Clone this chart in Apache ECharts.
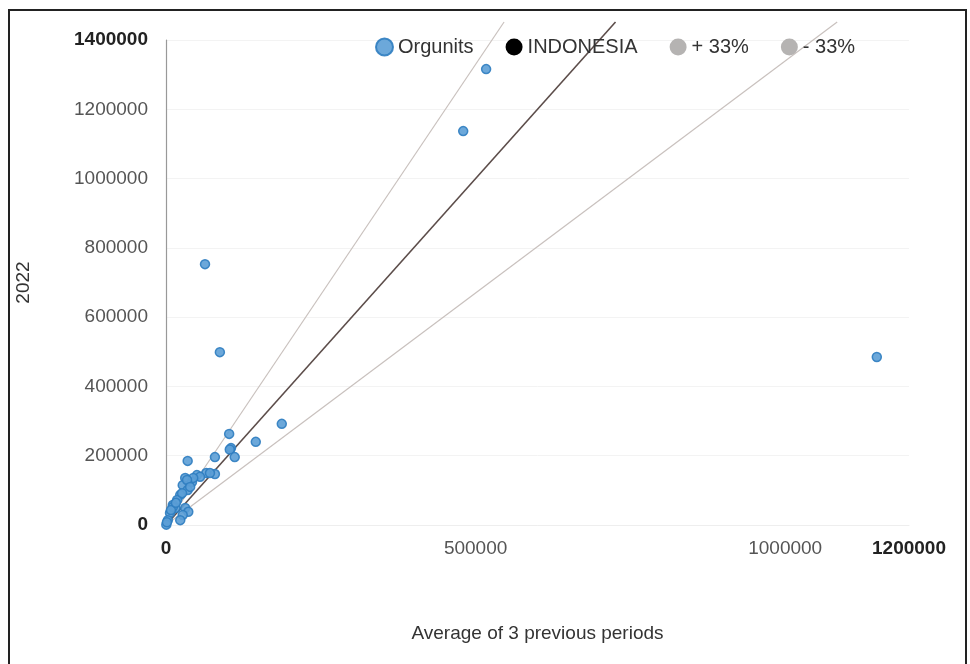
<!DOCTYPE html>
<html>
<head>
<meta charset="utf-8">
<script src="https://cdn.jsdelivr.net/npm/echarts@6/dist/echarts.min.js"></script>
<style>
  html, body { margin: 0; padding: 0; background: #fff; }
  #main { width: 970px; height: 664px; }
</style>
</head>
<body>
<div id="main"></div>
<script>
// [average of 3 previous periods, 2022]
var orgunits = [
    [517000, 1316000], [480000, 1137000], [63000, 753000], [87000, 499000],
    [1148000, 485000], [187000, 292000], [102000, 263000], [145000, 240000],
    [105000, 222000], [103000, 218000], [111000, 196000], [79000, 196000],
    [35000, 185000], [65000, 150000], [79000, 147000], [71000, 150000],
    [50000, 144000], [31000, 136000], [42000, 124000], [27000, 115000],
    [35000, 101000], [23000, 87000], [18000, 72000], [11000, 58000],
    [31000, 49000], [36000, 38000], [27000, 29000], [6500, 35000],
    [3000, 14000], [500, 1000], [23000, 14000], [15000, 49000],
    [55000, 139000], [44000, 136000], [34000, 130000], [39000, 110000],
    [26000, 92000], [11000, 52000], [1500, 8000], [8000, 43000], [16000, 64000]
];
var indonesiaLine = [[0, 0], [726000, 1452000]];
var plus33Line = [[0, 0], [546000, 1452000]];
var minus33Line = [[0, 0], [1084000, 1452000]];
var legendNames = ['Orgunits', 'INDONESIA', '+ 33%', '- 33%'];

var myChart = echarts.init(document.getElementById('main'));
var font = 'Liberation Sans, Arial, sans-serif';

function boldEnds(lo, hi) {
    return function (v) {
        return (v === lo || v === hi) ? '{b|' + v + '}' : String(v);
    };
}

var option = {
    animation: false,
    backgroundColor: '#fff',
    textStyle: { fontFamily: font },
    graphic: [{
        type: 'rect',
        shape: { x: 9, y: 10, width: 957, height: 662 },
        style: { fill: 'none', stroke: '#222', lineWidth: 2 },
        z: 100
    }],
    legend: {
        data: legendNames,
        left: 370,
        top: 32,
        icon: 'circle',
        itemWidth: 17,
        itemHeight: 17,
        itemGap: 32,
        textStyle: { fontSize: 20, color: '#333', fontFamily: font }
    },
    grid: {
        left: 166,
        right: 61,
        top: 40,
        bottom: 139
    },
    xAxis: {
        type: 'value',
        min: 0,
        max: 1200000,
        interval: 500000,
        name: 'Average of 3 previous periods',
        nameLocation: 'middle',
        nameGap: 99,
        nameTextStyle: { fontSize: 19, color: '#333' },
        axisLine: { show: true, lineStyle: { color: '#eee' } },
        axisTick: { show: false },
        splitLine: { show: false },
        axisLabel: {
            fontSize: 19,
            color: '#555',
            margin: 14,
            showMaxLabel: true,
            formatter: boldEnds(0, 1200000),
            rich: { b: { fontSize: 19, fontWeight: 'bold', color: '#222', fontFamily: font } }
        }
    },
    yAxis: {
        type: 'value',
        min: 0,
        max: 1400000,
        interval: 200000,
        name: '2022',
        nameLocation: 'middle',
        nameGap: 133,
        nameTextStyle: { fontSize: 19, color: '#333' },
        axisLine: { show: true, lineStyle: { color: '#999', width: 1.2 } },
        axisTick: { show: false },
        splitLine: { show: true, lineStyle: { color: '#f3f3f3' } },
        axisLabel: {
            fontSize: 19,
            color: '#555',
            margin: 18,
            formatter: boldEnds(0, 1400000),
            rich: { b: { fontSize: 19, fontWeight: 'bold', color: '#222', fontFamily: font } }
        }
    },
    series: [
        {
            name: 'Orgunits',
            type: 'scatter',
            data: orgunits,
            symbol: 'circle',
            symbolSize: 9,
            itemStyle: {
                color: '#5c9fd6',
                borderColor: '#2f7dc0',
                borderWidth: 1.5,
                opacity: 0.9
            },
            z: 5
        },
        {
            name: 'INDONESIA',
            type: 'line',
            data: indonesiaLine,
            showSymbol: false,
            clip: false,
            itemStyle: { color: '#000' },
            lineStyle: { color: '#5c4d4a', width: 1.6 },
            z: 3
        },
        {
            name: '+ 33%',
            type: 'line',
            data: plus33Line,
            showSymbol: false,
            clip: false,
            itemStyle: { color: '#b5b3b2' },
            lineStyle: { color: '#c9c1be', width: 1.2 },
            z: 2
        },
        {
            name: '- 33%',
            type: 'line',
            data: minus33Line,
            showSymbol: false,
            clip: false,
            itemStyle: { color: '#b5b3b2' },
            lineStyle: { color: '#c9c1be', width: 1.2 },
            z: 2
        }
    ]
};
myChart.setOption(option);
</script>
</body>
</html>
